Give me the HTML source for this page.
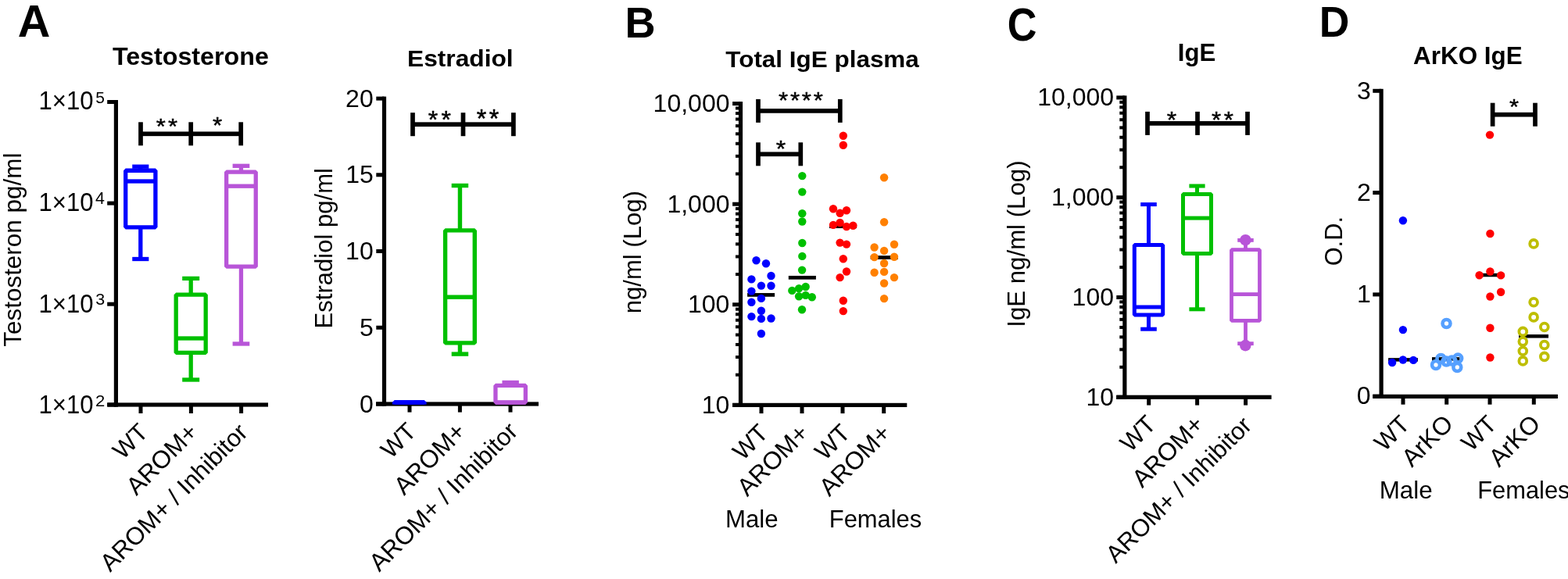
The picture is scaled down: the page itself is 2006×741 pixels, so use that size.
<!DOCTYPE html>
<html><head><meta charset="utf-8"><title>Figure</title>
<style>html,body{margin:0;padding:0;background:#fff;}svg{display:block;}text{font-family:"Liberation Sans",Arial,sans-serif;fill:#000;}</style>
</head><body>
<svg width="2006" height="741" viewBox="0 0 2006 741">
<rect width="2006" height="741" fill="#fff"/>
<text transform="translate(22.81,47.20) scale(1.0663,1.0511)" font-weight="bold" font-size="54">A</text>
<text transform="translate(143.90,83.41) scale(1.0076,0.9687)" font-weight="bold" font-size="32">Testosterone</text>
<text transform="translate(26.61,443.79) rotate(-90) scale(0.9836,0.9832)" font-weight="normal" font-size="32">Testosteron pg/ml</text>
<rect x="145.80" y="128.00" width="5.20" height="392.70" fill="#000"/>
<rect x="137.20" y="128.00" width="11.20" height="5.00" fill="#000"/>
<rect x="137.20" y="257.60" width="11.20" height="5.00" fill="#000"/>
<rect x="137.20" y="386.70" width="11.20" height="5.00" fill="#000"/>
<rect x="137.20" y="515.50" width="11.20" height="5.00" fill="#000"/>
<rect x="137.30" y="515.40" width="205.70" height="5.20" fill="#000"/>
<rect x="177.50" y="518.00" width="5.00" height="11.00" fill="#000"/>
<rect x="241.90" y="518.00" width="5.00" height="11.00" fill="#000"/>
<rect x="306.10" y="518.00" width="5.00" height="11.00" fill="#000"/>
<text transform="translate(49.47,140.49) scale(0.9722,1.0133)" font-weight="normal" font-size="32">1×10</text>
<text transform="translate(122.30,131.80) scale(1.0000,1.0068)" font-weight="normal" font-size="21">5</text>
<text transform="translate(49.47,269.59) scale(0.9722,1.0177)" font-weight="normal" font-size="32">1×10</text>
<text transform="translate(122.09,261.01) scale(1.0189,1.0417)" font-weight="normal" font-size="21">4</text>
<text transform="translate(49.47,399.59) scale(0.9722,1.0177)" font-weight="normal" font-size="32">1×10</text>
<text transform="translate(122.28,389.90) scale(1.0200,1.0067)" font-weight="normal" font-size="21">3</text>
<text transform="translate(49.47,528.59) scale(0.9722,1.0133)" font-weight="normal" font-size="32">1×10</text>
<text transform="translate(121.95,519.80) scale(1.0521,1.0000)" font-weight="normal" font-size="21">2</text>
<rect x="177.15" y="213.20" width="5.30" height="5.05" fill="#0000FF"/>
<rect x="169.25" y="210.55" width="21.10" height="5.30" fill="#0000FF"/>
<rect x="177.15" y="290.85" width="5.30" height="40.65" fill="#0000FF"/>
<rect x="169.25" y="328.85" width="21.10" height="5.30" fill="#0000FF"/>
<rect x="160.70" y="218.25" width="38.20" height="72.60" fill="none" stroke="#0000FF" stroke-width="5.3" stroke-linejoin="bevel"/>
<rect x="160.70" y="229.35" width="38.20" height="5.30" fill="#0000FF"/>
<rect x="241.55" y="356.35" width="5.30" height="20.80" fill="#00C000"/>
<rect x="233.20" y="353.70" width="22.00" height="5.30" fill="#00C000"/>
<rect x="241.55" y="451.45" width="5.30" height="34.55" fill="#00C000"/>
<rect x="233.20" y="483.35" width="22.00" height="5.30" fill="#00C000"/>
<rect x="225.20" y="377.15" width="38.00" height="74.30" fill="none" stroke="#00C000" stroke-width="5.3" stroke-linejoin="bevel"/>
<rect x="225.20" y="430.35" width="38.00" height="5.30" fill="#00C000"/>
<rect x="305.80" y="212.30" width="5.30" height="7.75" fill="#B855D8"/>
<rect x="297.60" y="209.65" width="21.70" height="5.30" fill="#B855D8"/>
<rect x="305.80" y="341.15" width="5.30" height="98.85" fill="#B855D8"/>
<rect x="297.60" y="437.35" width="21.70" height="5.30" fill="#B855D8"/>
<rect x="289.65" y="220.05" width="37.60" height="121.10" fill="none" stroke="#B855D8" stroke-width="5.3" stroke-linejoin="bevel"/>
<rect x="289.65" y="235.55" width="37.60" height="5.30" fill="#B855D8"/>
<rect x="180.00" y="168.45" width="128.20" height="5.70" fill="#000"/>
<rect x="177.15" y="156.30" width="5.70" height="30.00" fill="#000"/>
<rect x="241.35" y="156.30" width="5.70" height="30.00" fill="#000"/>
<rect x="305.35" y="156.30" width="5.70" height="30.00" fill="#000"/>
<text transform="translate(199.67,171.09) scale(0.9706,0.8929)" font-weight="normal" font-size="32" letter-spacing="3.45" stroke="#000" stroke-width="0.5">**</text>
<text transform="translate(271.96,170.19) scale(0.9821,0.9018)" font-weight="normal" font-size="32" stroke="#000" stroke-width="0.5">*</text>
<text transform="translate(157.09,589.18) rotate(-45) scale(0.9722)" font-weight="normal" font-size="32">WT</text>
<text transform="translate(174.43,635.32) rotate(-45) scale(0.9914)" font-weight="normal" font-size="32">AROM+</text>
<text transform="translate(141.06,732.90) rotate(-45) scale(0.9849)" font-weight="normal" font-size="32">AROM+ / Inhibitor</text>
<text transform="translate(521.02,84.53) scale(0.9909,0.9322)" font-weight="bold" font-size="32">Estradiol</text>
<text transform="translate(424.56,420.42) rotate(-90) scale(0.9705,0.9765)" font-weight="normal" font-size="32">Estradiol pg/ml</text>
<rect x="488.90" y="123.60" width="5.20" height="396.00" fill="#000"/>
<rect x="481.30" y="123.60" width="10.20" height="5.00" fill="#000"/>
<rect x="481.30" y="221.30" width="10.20" height="5.00" fill="#000"/>
<rect x="481.30" y="319.00" width="10.20" height="5.00" fill="#000"/>
<rect x="481.30" y="416.75" width="10.20" height="5.00" fill="#000"/>
<rect x="481.30" y="514.50" width="10.20" height="5.00" fill="#000"/>
<rect x="481.00" y="514.40" width="208.00" height="5.20" fill="#000"/>
<rect x="521.50" y="517.00" width="5.00" height="10.60" fill="#000"/>
<rect x="585.90" y="517.00" width="5.00" height="10.60" fill="#000"/>
<rect x="650.50" y="517.00" width="5.00" height="10.60" fill="#000"/>
<text transform="translate(442.10,136.60) scale(1.0000,1)" font-weight="normal" font-size="32">20</text>
<text transform="translate(442.30,234.30) scale(1.0000,1)" font-weight="normal" font-size="32">15</text>
<text transform="translate(442.10,332.00) scale(1.0000,1)" font-weight="normal" font-size="32">10</text>
<text transform="translate(460.10,429.75) scale(1.0000,1)" font-weight="normal" font-size="32">5</text>
<text transform="translate(459.90,527.50) scale(1.0000,1)" font-weight="normal" font-size="32">0</text>
<rect x="504.55" y="514.80" width="38.40" height="0.01" fill="none" stroke="#0000FF" stroke-width="5.3" stroke-linejoin="bevel"/>
<rect x="504.55" y="512.15" width="38.40" height="5.30" fill="#0000FF"/>
<rect x="501.90" y="514.80" width="43.70" height="2.80" fill="#0000FF"/>
<rect x="585.75" y="237.50" width="5.40" height="57.40" fill="#00C000"/>
<rect x="577.70" y="234.80" width="21.50" height="5.40" fill="#00C000"/>
<rect x="585.75" y="438.90" width="5.40" height="14.20" fill="#00C000"/>
<rect x="577.70" y="450.40" width="21.50" height="5.40" fill="#00C000"/>
<rect x="569.60" y="294.90" width="37.70" height="144.00" fill="none" stroke="#00C000" stroke-width="5.4" stroke-linejoin="bevel"/>
<rect x="569.60" y="377.50" width="37.70" height="5.40" fill="#00C000"/>
<rect x="650.50" y="489.50" width="5.30" height="3.95" fill="#B855D8"/>
<rect x="642.45" y="486.85" width="21.40" height="5.30" fill="#B855D8"/>
<rect x="633.95" y="493.45" width="38.40" height="21.60" fill="none" stroke="#B855D8" stroke-width="5.3" stroke-linejoin="bevel"/>
<rect x="633.95" y="512.35" width="38.40" height="5.30" fill="#B855D8"/>
<rect x="528.00" y="156.35" width="128.90" height="5.70" fill="#000"/>
<rect x="525.15" y="144.20" width="5.70" height="30.00" fill="#000"/>
<rect x="589.65" y="144.20" width="5.70" height="30.00" fill="#000"/>
<rect x="654.05" y="144.20" width="5.70" height="30.00" fill="#000"/>
<text transform="translate(547.85,164.05) scale(1.0036,0.9911)" font-weight="normal" font-size="32" letter-spacing="4.17" stroke="#000" stroke-width="0.5">**</text>
<text transform="translate(609.65,162.84) scale(1.0074,1.0268)" font-weight="normal" font-size="32" letter-spacing="3.45" stroke="#000" stroke-width="0.5">**</text>
<text transform="translate(499.88,588.24) rotate(-45) scale(0.9743)" font-weight="normal" font-size="32">WT</text>
<text transform="translate(516.94,634.92) rotate(-45) scale(0.9971)" font-weight="normal" font-size="32">AROM+</text>
<text transform="translate(485.28,732.77) rotate(-45) scale(0.9919)" font-weight="normal" font-size="32">AROM+ / Inhibitor</text>
<text transform="translate(799.49,47.80) scale(1.0030,1.0403)" font-weight="bold" font-size="54">B</text>
<text transform="translate(928.31,86.35) scale(0.9829,0.9333)" font-weight="bold" font-size="32">Total IgE plasma</text>
<text transform="translate(819.56,401.13) rotate(-90) scale(0.9695,0.9765)" font-weight="normal" font-size="32">ng/ml (Log)</text>
<rect x="944.90" y="130.10" width="5.20" height="390.80" fill="#000"/>
<rect x="937.10" y="130.10" width="10.40" height="5.00" fill="#000"/>
<rect x="937.10" y="258.70" width="10.40" height="5.00" fill="#000"/>
<rect x="937.10" y="387.30" width="10.40" height="5.00" fill="#000"/>
<rect x="937.10" y="515.90" width="10.40" height="5.00" fill="#000"/>
<rect x="941.00" y="220.49" width="6.50" height="4.00" fill="#000"/>
<rect x="941.00" y="197.84" width="6.50" height="4.00" fill="#000"/>
<rect x="941.00" y="181.78" width="6.50" height="4.00" fill="#000"/>
<rect x="941.00" y="169.31" width="6.50" height="4.00" fill="#000"/>
<rect x="941.00" y="159.13" width="6.50" height="4.00" fill="#000"/>
<rect x="941.00" y="150.52" width="6.50" height="4.00" fill="#000"/>
<rect x="941.00" y="143.06" width="6.50" height="4.00" fill="#000"/>
<rect x="941.00" y="136.48" width="6.50" height="4.00" fill="#000"/>
<rect x="941.00" y="349.09" width="6.50" height="4.00" fill="#000"/>
<rect x="941.00" y="326.44" width="6.50" height="4.00" fill="#000"/>
<rect x="941.00" y="310.38" width="6.50" height="4.00" fill="#000"/>
<rect x="941.00" y="297.91" width="6.50" height="4.00" fill="#000"/>
<rect x="941.00" y="287.73" width="6.50" height="4.00" fill="#000"/>
<rect x="941.00" y="279.12" width="6.50" height="4.00" fill="#000"/>
<rect x="941.00" y="271.66" width="6.50" height="4.00" fill="#000"/>
<rect x="941.00" y="265.08" width="6.50" height="4.00" fill="#000"/>
<rect x="941.00" y="477.69" width="6.50" height="4.00" fill="#000"/>
<rect x="941.00" y="455.04" width="6.50" height="4.00" fill="#000"/>
<rect x="941.00" y="438.98" width="6.50" height="4.00" fill="#000"/>
<rect x="941.00" y="426.51" width="6.50" height="4.00" fill="#000"/>
<rect x="941.00" y="416.33" width="6.50" height="4.00" fill="#000"/>
<rect x="941.00" y="407.72" width="6.50" height="4.00" fill="#000"/>
<rect x="941.00" y="400.26" width="6.50" height="4.00" fill="#000"/>
<rect x="941.00" y="393.68" width="6.50" height="4.00" fill="#000"/>
<rect x="937.10" y="515.80" width="223.20" height="5.20" fill="#000"/>
<rect x="971.50" y="518.40" width="5.00" height="10.70" fill="#000"/>
<rect x="1023.50" y="518.40" width="5.00" height="10.70" fill="#000"/>
<rect x="1075.50" y="518.40" width="5.00" height="10.70" fill="#000"/>
<rect x="1128.20" y="518.40" width="5.00" height="10.70" fill="#000"/>
<text transform="translate(835.60,143.00) scale(1.0000,1)" font-weight="normal" font-size="32">10,000</text>
<text transform="translate(853.40,271.60) scale(1.0000,1)" font-weight="normal" font-size="32">1,000</text>
<text transform="translate(880.00,400.20) scale(1.0000,1)" font-weight="normal" font-size="32">100</text>
<text transform="translate(897.80,528.80) scale(1.0000,1)" font-weight="normal" font-size="32">10</text>
<rect x="970.00" y="139.05" width="104.80" height="5.70" fill="#000"/>
<rect x="967.15" y="126.90" width="5.70" height="30.00" fill="#000"/>
<rect x="1071.95" y="126.90" width="5.70" height="30.00" fill="#000"/>
<rect x="970.00" y="194.45" width="54.30" height="5.70" fill="#000"/>
<rect x="967.15" y="182.30" width="5.70" height="30.00" fill="#000"/>
<rect x="1021.45" y="182.30" width="5.70" height="30.00" fill="#000"/>
<text transform="translate(995.96,137.58) scale(0.9755,0.9286)" font-weight="normal" font-size="32" letter-spacing="2.86" stroke="#000" stroke-width="0.5">****</text>
<text transform="translate(992.65,199.89) scale(1.0000,0.9018)" font-weight="normal" font-size="32" stroke="#000" stroke-width="0.5">*</text>
<rect x="956.10" y="375.05" width="35.00" height="4.70" fill="#000"/>
<rect x="1008.80" y="352.95" width="35.10" height="4.70" fill="#000"/>
<rect x="1061.00" y="287.35" width="35.00" height="4.70" fill="#000"/>
<rect x="1113.70" y="327.15" width="35.10" height="4.70" fill="#000"/>
<circle cx="967.50" cy="333.30" r="5.20" fill="#0000FF"/>
<circle cx="980.00" cy="337.20" r="5.20" fill="#0000FF"/>
<circle cx="986.50" cy="353.00" r="5.20" fill="#0000FF"/>
<circle cx="961.40" cy="357.40" r="5.20" fill="#0000FF"/>
<circle cx="973.90" cy="365.60" r="5.20" fill="#0000FF"/>
<circle cx="986.50" cy="365.80" r="5.20" fill="#0000FF"/>
<circle cx="961.40" cy="372.60" r="5.20" fill="#0000FF"/>
<circle cx="973.90" cy="381.90" r="5.20" fill="#0000FF"/>
<circle cx="961.40" cy="386.70" r="5.20" fill="#0000FF"/>
<circle cx="973.90" cy="397.70" r="5.20" fill="#0000FF"/>
<circle cx="961.40" cy="405.10" r="5.20" fill="#0000FF"/>
<circle cx="973.90" cy="407.90" r="5.20" fill="#0000FF"/>
<circle cx="986.50" cy="407.50" r="5.20" fill="#0000FF"/>
<circle cx="973.90" cy="427.00" r="5.20" fill="#0000FF"/>
<circle cx="1026.30" cy="225.10" r="5.20" fill="#00C000"/>
<circle cx="1026.30" cy="245.60" r="5.20" fill="#00C000"/>
<circle cx="1026.30" cy="273.30" r="5.20" fill="#00C000"/>
<circle cx="1026.30" cy="283.50" r="5.20" fill="#00C000"/>
<circle cx="1026.30" cy="311.00" r="5.20" fill="#00C000"/>
<circle cx="1026.30" cy="327.90" r="5.20" fill="#00C000"/>
<circle cx="1026.10" cy="345.60" r="5.20" fill="#00C000"/>
<circle cx="1013.30" cy="371.90" r="5.20" fill="#00C000"/>
<circle cx="1022.10" cy="369.10" r="5.20" fill="#00C000"/>
<circle cx="1030.70" cy="367.00" r="5.20" fill="#00C000"/>
<circle cx="1022.10" cy="379.30" r="5.20" fill="#00C000"/>
<circle cx="1030.70" cy="377.90" r="5.20" fill="#00C000"/>
<circle cx="1038.80" cy="380.20" r="5.20" fill="#00C000"/>
<circle cx="1026.00" cy="396.30" r="5.20" fill="#00C000"/>
<circle cx="1078.80" cy="173.70" r="5.20" fill="#FF0000"/>
<circle cx="1078.80" cy="185.80" r="5.20" fill="#FF0000"/>
<circle cx="1066.00" cy="267.30" r="5.20" fill="#FF0000"/>
<circle cx="1074.60" cy="272.70" r="5.20" fill="#FF0000"/>
<circle cx="1083.00" cy="269.20" r="5.20" fill="#FF0000"/>
<circle cx="1066.00" cy="287.90" r="5.20" fill="#FF0000"/>
<circle cx="1074.60" cy="285.00" r="5.20" fill="#FF0000"/>
<circle cx="1083.00" cy="290.00" r="5.20" fill="#FF0000"/>
<circle cx="1091.40" cy="288.80" r="5.20" fill="#FF0000"/>
<circle cx="1074.60" cy="310.60" r="5.20" fill="#FF0000"/>
<circle cx="1083.00" cy="312.60" r="5.20" fill="#FF0000"/>
<circle cx="1078.80" cy="331.20" r="5.20" fill="#FF0000"/>
<circle cx="1083.00" cy="347.50" r="5.20" fill="#FF0000"/>
<circle cx="1074.60" cy="355.10" r="5.20" fill="#FF0000"/>
<circle cx="1078.80" cy="384.70" r="5.20" fill="#FF0000"/>
<circle cx="1078.80" cy="398.10" r="5.20" fill="#FF0000"/>
<circle cx="1131.10" cy="227.20" r="5.20" fill="#FF8000"/>
<circle cx="1131.10" cy="284.30" r="5.20" fill="#FF8000"/>
<circle cx="1118.60" cy="316.50" r="5.20" fill="#FF8000"/>
<circle cx="1144.00" cy="312.80" r="5.20" fill="#FF8000"/>
<circle cx="1131.10" cy="320.90" r="5.20" fill="#FF8000"/>
<circle cx="1118.60" cy="329.10" r="5.20" fill="#FF8000"/>
<circle cx="1144.00" cy="328.80" r="5.20" fill="#FF8000"/>
<circle cx="1131.10" cy="337.00" r="5.20" fill="#FF8000"/>
<circle cx="1118.60" cy="348.80" r="5.20" fill="#FF8000"/>
<circle cx="1131.10" cy="347.90" r="5.20" fill="#FF8000"/>
<circle cx="1144.00" cy="355.10" r="5.20" fill="#FF8000"/>
<circle cx="1131.10" cy="362.50" r="5.20" fill="#FF8000"/>
<circle cx="1131.10" cy="382.10" r="5.20" fill="#FF8000"/>
<text transform="translate(950.27,590.43) rotate(-45) scale(0.9755)" font-weight="normal" font-size="32">WT</text>
<text transform="translate(956.04,636.54) rotate(-45) scale(0.9908)" font-weight="normal" font-size="32">AROM+</text>
<text transform="translate(1055.27,590.43) rotate(-45) scale(0.9755)" font-weight="normal" font-size="32">WT</text>
<text transform="translate(1061.04,636.54) rotate(-45) scale(0.9908)" font-weight="normal" font-size="32">AROM+</text>
<text transform="translate(927.96,674.90) scale(0.9755,0.9958)" font-weight="normal" font-size="32">Male</text>
<text transform="translate(1060.79,674.90) scale(0.9647,0.9958)" font-weight="normal" font-size="32">Females</text>
<text transform="translate(1288.78,52.35) scale(0.9659,1.0812)" font-weight="bold" font-size="54">C</text>
<text transform="translate(1506.86,78.14) scale(0.9720,0.9653)" font-weight="bold" font-size="32">IgE</text>
<text transform="translate(1310.50,418.73) rotate(-90) scale(0.9752,0.9698)" font-weight="normal" font-size="32">IgE ng/ml (Log)</text>
<rect x="1436.25" y="122.40" width="5.20" height="388.60" fill="#000"/>
<rect x="1428.30" y="122.40" width="10.55" height="5.00" fill="#000"/>
<rect x="1428.30" y="250.20" width="10.55" height="5.00" fill="#000"/>
<rect x="1428.30" y="378.00" width="10.55" height="5.00" fill="#000"/>
<rect x="1428.30" y="505.80" width="10.55" height="5.00" fill="#000"/>
<rect x="1432.30" y="212.23" width="6.55" height="4.00" fill="#000"/>
<rect x="1432.30" y="189.72" width="6.55" height="4.00" fill="#000"/>
<rect x="1432.30" y="173.76" width="6.55" height="4.00" fill="#000"/>
<rect x="1432.30" y="161.37" width="6.55" height="4.00" fill="#000"/>
<rect x="1432.30" y="151.25" width="6.55" height="4.00" fill="#000"/>
<rect x="1432.30" y="142.70" width="6.55" height="4.00" fill="#000"/>
<rect x="1432.30" y="135.29" width="6.55" height="4.00" fill="#000"/>
<rect x="1432.30" y="128.75" width="6.55" height="4.00" fill="#000"/>
<rect x="1432.30" y="340.03" width="6.55" height="4.00" fill="#000"/>
<rect x="1432.30" y="317.52" width="6.55" height="4.00" fill="#000"/>
<rect x="1432.30" y="301.56" width="6.55" height="4.00" fill="#000"/>
<rect x="1432.30" y="289.17" width="6.55" height="4.00" fill="#000"/>
<rect x="1432.30" y="279.05" width="6.55" height="4.00" fill="#000"/>
<rect x="1432.30" y="270.50" width="6.55" height="4.00" fill="#000"/>
<rect x="1432.30" y="263.09" width="6.55" height="4.00" fill="#000"/>
<rect x="1432.30" y="256.55" width="6.55" height="4.00" fill="#000"/>
<rect x="1432.30" y="467.83" width="6.55" height="4.00" fill="#000"/>
<rect x="1432.30" y="445.32" width="6.55" height="4.00" fill="#000"/>
<rect x="1432.30" y="429.36" width="6.55" height="4.00" fill="#000"/>
<rect x="1432.30" y="416.97" width="6.55" height="4.00" fill="#000"/>
<rect x="1432.30" y="406.85" width="6.55" height="4.00" fill="#000"/>
<rect x="1432.30" y="398.30" width="6.55" height="4.00" fill="#000"/>
<rect x="1432.30" y="390.89" width="6.55" height="4.00" fill="#000"/>
<rect x="1432.30" y="384.35" width="6.55" height="4.00" fill="#000"/>
<rect x="1428.20" y="505.70" width="198.40" height="5.20" fill="#000"/>
<rect x="1467.20" y="508.30" width="5.00" height="10.30" fill="#000"/>
<rect x="1529.10" y="508.30" width="5.00" height="10.30" fill="#000"/>
<rect x="1591.10" y="508.30" width="5.00" height="10.30" fill="#000"/>
<text transform="translate(1327.20,135.10) scale(1.0000,1)" font-weight="normal" font-size="32">10,000</text>
<text transform="translate(1345.00,262.90) scale(1.0000,1)" font-weight="normal" font-size="32">1,000</text>
<text transform="translate(1371.60,390.70) scale(1.0000,1)" font-weight="normal" font-size="32">100</text>
<text transform="translate(1389.40,518.50) scale(1.0000,1)" font-weight="normal" font-size="32">10</text>
<rect x="1467.00" y="261.60" width="5.00" height="51.90" fill="#0000FF"/>
<rect x="1459.20" y="259.10" width="20.60" height="5.00" fill="#0000FF"/>
<rect x="1467.00" y="403.10" width="5.00" height="18.10" fill="#0000FF"/>
<rect x="1459.20" y="418.70" width="20.60" height="5.00" fill="#0000FF"/>
<rect x="1451.30" y="313.50" width="36.40" height="89.60" fill="none" stroke="#0000FF" stroke-width="5.0" stroke-linejoin="bevel"/>
<rect x="1451.30" y="390.50" width="36.40" height="5.00" fill="#0000FF"/>
<rect x="1529.00" y="238.00" width="5.00" height="10.50" fill="#00C000"/>
<rect x="1521.40" y="235.50" width="20.20" height="5.00" fill="#00C000"/>
<rect x="1529.00" y="324.50" width="5.00" height="71.30" fill="#00C000"/>
<rect x="1521.40" y="393.30" width="20.20" height="5.00" fill="#00C000"/>
<rect x="1513.50" y="248.50" width="36.00" height="76.00" fill="none" stroke="#00C000" stroke-width="5.0" stroke-linejoin="bevel"/>
<rect x="1513.50" y="276.60" width="36.00" height="5.00" fill="#00C000"/>
<rect x="1591.10" y="307.40" width="4.80" height="12.30" fill="#B855D8"/>
<rect x="1583.25" y="305.00" width="20.50" height="4.80" fill="#B855D8"/>
<rect x="1591.10" y="410.40" width="4.80" height="29.30" fill="#B855D8"/>
<rect x="1583.25" y="437.30" width="20.50" height="4.80" fill="#B855D8"/>
<rect x="1575.50" y="319.70" width="36.00" height="90.70" fill="none" stroke="#B855D8" stroke-width="4.8" stroke-linejoin="bevel"/>
<rect x="1575.50" y="374.20" width="36.00" height="4.80" fill="#B855D8"/>
<circle cx="1593.40" cy="307.20" r="7.30" fill="#B855D8"/>
<circle cx="1593.30" cy="442.10" r="7.30" fill="#B855D8"/>
<rect x="1468.00" y="155.05" width="128.00" height="5.70" fill="#000"/>
<rect x="1465.15" y="142.90" width="5.70" height="30.00" fill="#000"/>
<rect x="1529.15" y="142.90" width="5.70" height="30.00" fill="#000"/>
<rect x="1593.15" y="142.90" width="5.70" height="30.00" fill="#000"/>
<text transform="translate(1492.65,163.29) scale(1.0000,0.9107)" font-weight="normal" font-size="32" stroke="#000" stroke-width="0.5">*</text>
<text transform="translate(1549.96,163.29) scale(0.9781,0.9107)" font-weight="normal" font-size="32" letter-spacing="3.65" stroke="#000" stroke-width="0.5">**</text>
<text transform="translate(1445.89,579.63) rotate(-45) scale(0.9865)" font-weight="normal" font-size="32">WT</text>
<text transform="translate(1461.16,625.43) rotate(-45) scale(0.9950)" font-weight="normal" font-size="32">AROM+</text>
<text transform="translate(1427.55,722.02) rotate(-45) scale(0.9736)" font-weight="normal" font-size="32">AROM+ / Inhibitor</text>
<text transform="translate(1687.63,46.80) scale(0.9910,1.0403)" font-weight="bold" font-size="54">D</text>
<text transform="translate(1808.12,82.36) scale(0.9807,0.9621)" font-weight="bold" font-size="32">ArKO IgE</text>
<text transform="translate(1716.81,340.34) rotate(-90) scale(0.9624,0.9823)" font-weight="normal" font-size="32">O.D.</text>
<rect x="1764.50" y="113.80" width="5.20" height="396.20" fill="#000"/>
<rect x="1756.30" y="113.80" width="10.80" height="5.00" fill="#000"/>
<rect x="1756.30" y="244.10" width="10.80" height="5.00" fill="#000"/>
<rect x="1756.30" y="374.40" width="10.80" height="5.00" fill="#000"/>
<rect x="1756.30" y="504.70" width="10.80" height="5.00" fill="#000"/>
<rect x="1756.30" y="504.80" width="236.70" height="5.20" fill="#000"/>
<rect x="1792.50" y="507.40" width="5.00" height="10.30" fill="#000"/>
<rect x="1848.20" y="507.40" width="5.00" height="10.30" fill="#000"/>
<rect x="1903.50" y="507.40" width="5.00" height="10.30" fill="#000"/>
<rect x="1959.80" y="507.40" width="5.00" height="10.30" fill="#000"/>
<text transform="translate(1735.90,126.50) scale(1.0000,1)" font-weight="normal" font-size="32">3</text>
<text transform="translate(1736.10,256.80) scale(1.0000,1)" font-weight="normal" font-size="32">2</text>
<text transform="translate(1736.10,387.10) scale(1.0000,1)" font-weight="normal" font-size="32">1</text>
<text transform="translate(1735.70,517.40) scale(1.0000,1)" font-weight="normal" font-size="32">0</text>
<rect x="1909.60" y="143.85" width="54.40" height="5.70" fill="#000"/>
<rect x="1906.75" y="131.70" width="5.70" height="30.00" fill="#000"/>
<rect x="1961.15" y="131.70" width="5.70" height="30.00" fill="#000"/>
<text transform="translate(1930.97,145.50) scale(0.9643,0.8661)" font-weight="normal" font-size="32" stroke="#000" stroke-width="0.5">*</text>
<rect x="1776.10" y="458.15" width="37.80" height="4.50" fill="#000"/>
<rect x="1832.00" y="457.15" width="35.40" height="4.50" fill="#000"/>
<rect x="1888.20" y="349.75" width="36.30" height="4.50" fill="#000"/>
<rect x="1943.10" y="428.05" width="37.90" height="4.50" fill="#000"/>
<circle cx="1794.90" cy="282.30" r="5.20" fill="#0000FF"/>
<circle cx="1794.90" cy="422.10" r="5.20" fill="#0000FF"/>
<circle cx="1781.10" cy="464.00" r="5.20" fill="#0000FF"/>
<circle cx="1794.90" cy="460.50" r="5.20" fill="#0000FF"/>
<circle cx="1808.20" cy="460.90" r="5.20" fill="#0000FF"/>
<circle cx="1850.50" cy="414.00" r="4.95" fill="none" stroke="#56A0FF" stroke-width="4.60"/>
<circle cx="1843.40" cy="459.00" r="4.95" fill="none" stroke="#56A0FF" stroke-width="4.60"/>
<circle cx="1865.20" cy="458.60" r="4.95" fill="none" stroke="#56A0FF" stroke-width="4.60"/>
<circle cx="1857.40" cy="461.60" r="4.95" fill="none" stroke="#56A0FF" stroke-width="4.60"/>
<circle cx="1850.40" cy="462.50" r="4.95" fill="none" stroke="#56A0FF" stroke-width="4.60"/>
<circle cx="1837.00" cy="467.00" r="4.95" fill="none" stroke="#56A0FF" stroke-width="4.60"/>
<circle cx="1864.30" cy="470.00" r="4.95" fill="none" stroke="#56A0FF" stroke-width="4.60"/>
<circle cx="1906.00" cy="172.60" r="5.20" fill="#FF0000"/>
<circle cx="1906.40" cy="299.00" r="5.20" fill="#FF0000"/>
<circle cx="1906.40" cy="347.50" r="5.20" fill="#FF0000"/>
<circle cx="1892.60" cy="352.30" r="5.20" fill="#FF0000"/>
<circle cx="1920.10" cy="352.40" r="5.20" fill="#FF0000"/>
<circle cx="1920.10" cy="373.80" r="5.20" fill="#FF0000"/>
<circle cx="1906.40" cy="379.50" r="5.20" fill="#FF0000"/>
<circle cx="1906.40" cy="419.70" r="5.20" fill="#FF0000"/>
<circle cx="1906.40" cy="457.50" r="5.20" fill="#FF0000"/>
<circle cx="1962.10" cy="311.90" r="4.90" fill="none" stroke="#BEBE00" stroke-width="3.80"/>
<circle cx="1962.10" cy="386.80" r="4.90" fill="none" stroke="#BEBE00" stroke-width="3.80"/>
<circle cx="1962.10" cy="405.90" r="4.90" fill="none" stroke="#BEBE00" stroke-width="3.80"/>
<circle cx="1975.80" cy="418.50" r="4.90" fill="none" stroke="#BEBE00" stroke-width="3.80"/>
<circle cx="1948.30" cy="424.40" r="4.90" fill="none" stroke="#BEBE00" stroke-width="3.80"/>
<circle cx="1948.30" cy="437.10" r="4.90" fill="none" stroke="#BEBE00" stroke-width="3.80"/>
<circle cx="1975.80" cy="441.50" r="4.90" fill="none" stroke="#BEBE00" stroke-width="3.80"/>
<circle cx="1948.30" cy="449.20" r="4.90" fill="none" stroke="#BEBE00" stroke-width="3.80"/>
<circle cx="1975.80" cy="456.40" r="4.90" fill="none" stroke="#BEBE00" stroke-width="3.80"/>
<circle cx="1948.30" cy="461.90" r="4.90" fill="none" stroke="#BEBE00" stroke-width="3.80"/>
<text transform="translate(1771.03,579.11) rotate(-45) scale(0.9732)" font-weight="normal" font-size="32">WT</text>
<text transform="translate(1806.13,599.08) rotate(-45) scale(0.9934)" font-weight="normal" font-size="32">ArKO</text>
<text transform="translate(1882.33,579.11) rotate(-45) scale(0.9732)" font-weight="normal" font-size="32">WT</text>
<text transform="translate(1917.63,599.08) rotate(-45) scale(0.9934)" font-weight="normal" font-size="32">ArKO</text>
<text transform="translate(1764.65,637.61) scale(0.9801,0.9703)" font-weight="normal" font-size="32">Male</text>
<text transform="translate(1890.19,637.61) scale(0.9647,0.9703)" font-weight="normal" font-size="32">Females</text>
</svg>
</body></html>
